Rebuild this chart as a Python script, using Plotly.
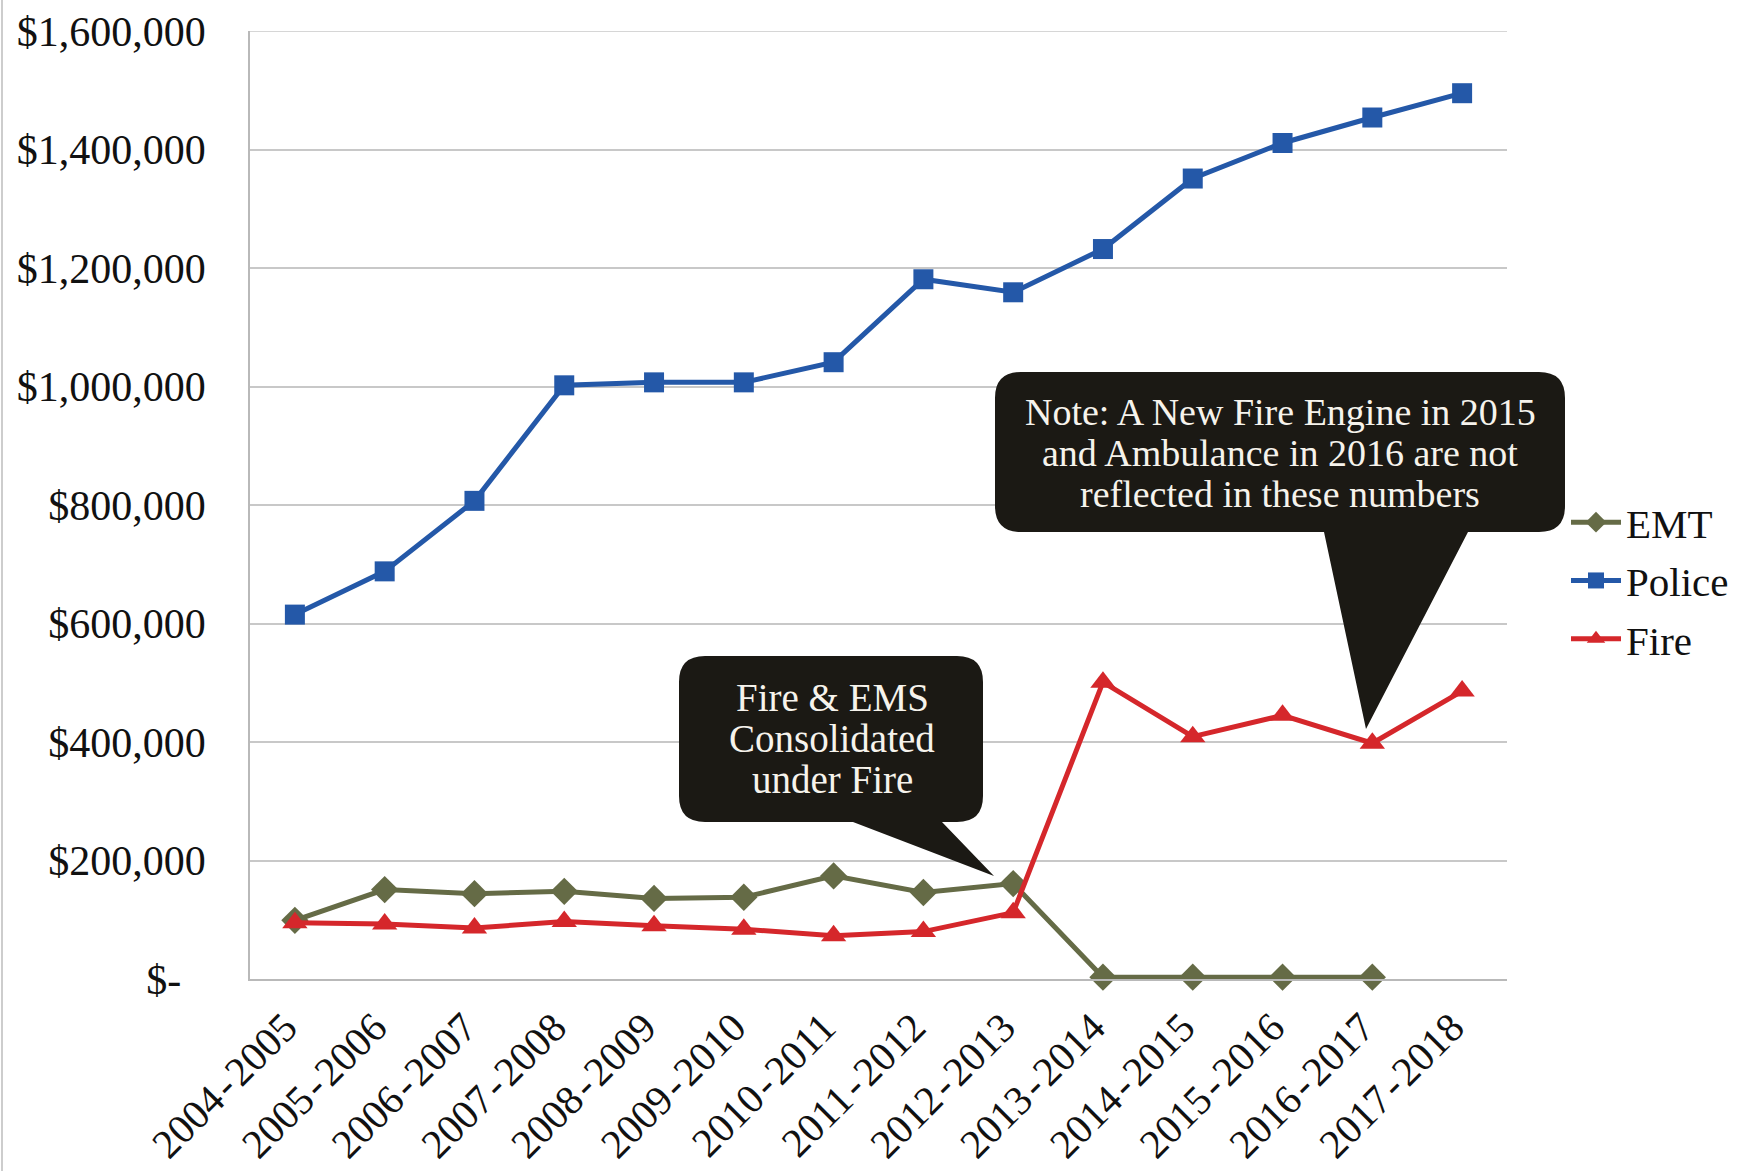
import plotly.graph_objects as go

# ---------------- data ----------------
years = ["2004-2005", "2005-2006", "2006-2007", "2007-2008", "2008-2009",
         "2009-2010", "2010-2011", "2011-2012", "2012-2013", "2013-2014",
         "2014-2015", "2015-2016", "2016-2017", "2017-2018"]

emt = [99000, 151000, 144000, 148000, 136000, 138000, 174000, 146000,
       161000, 3000, 3000, 3000, 3000, None]
police = [615000, 688000, 807000, 1002000, 1007000, 1007000, 1041000,
          1181000, 1159000, 1232000, 1351000, 1411000, 1454000, 1495000]
fire = [95000, 93000, 86000, 97000, 90000, 84000, 73000, 80000, 112000,
        501000, 409000, 445000, 398000, 486000]

y_tickvals = [0, 200000, 400000, 600000, 800000, 1000000, 1200000, 1400000, 1600000]
y_ticktext = ["$-\u00a0\u00a0\u200a", "$200,000", "$400,000", "$600,000", "$800,000",
              "$1,000,000", "$1,200,000", "$1,400,000", "$1,600,000"]
x_ticktext = [y.replace("-", "\u200a-\u200a") for y in years]

note1_lines = ["Fire & EMS", "Consolidated", "under Fire"]
note2_lines = ["Note: A New Fire Engine in 2015",
               "and Ambulance in 2016 are not",
               "reflected in these numbers"]

# ---------------- layout geometry ----------------
W, H = 1737, 1171
ML, MR, MT, MB = 250, 230, 31, 192
PW = W - ML - MR
PH = H - MT - MB
FONT = "Liberation Serif"

C_EMT = "#656b46"
C_POL = "#2458a8"
C_FIRE = "#d5272b"


def px2paper(px, py):
    return (px - ML) / PW, (H - MB - py) / PH


def callout_path(x0, y0, x1, y1, r, tail_r, tip, tail_l):
    pts = []

    def P(cmd, *xy):
        out = cmd
        for i in range(0, len(xy), 2):
            a, b = px2paper(xy[i], xy[i + 1])
            out += f" {a:.5f},{b:.5f}"
        pts.append(out)

    P("M", x0 + r, y0)
    P("L", x1 - r, y0)
    P("Q", x1, y0, x1, y0 + r)
    P("L", x1, y1 - r)
    P("Q", x1, y1, x1 - r, y1)
    P("L", tail_r, y1)
    P("L", tip[0], tip[1])
    P("L", tail_l, y1)
    P("L", x0 + r, y1)
    P("Q", x0, y1, x0, y1 - r)
    P("L", x0, y0 + r)
    P("Q", x0, y0, x0 + r, y0)
    return " ".join(pts) + " Z"


fig = go.Figure()

fig.add_trace(go.Scatter(
    x=years, y=emt, name="EMT", mode="lines+markers",
    line=dict(color=C_EMT, width=5),
    marker=dict(symbol="diamond", size=21, color=C_EMT),
    cliponaxis=False, legendgroup="a"))
fig.add_trace(go.Scatter(
    x=years, y=police, name="Police", mode="lines+markers",
    line=dict(color=C_POL, width=5),
    marker=dict(symbol="square", size=20, color=C_POL),
    cliponaxis=False, legendgroup="b"))
fig.add_trace(go.Scatter(
    x=years, y=fire, name="Fire", mode="lines+markers",
    line=dict(color=C_FIRE, width=5),
    marker=dict(symbol="triangle-up", size=22, color=C_FIRE),
    cliponaxis=False, legendgroup="c"))

shapes = [
    # top gridline at the range edge
    dict(type="line", xref="paper", yref="y", x0=0, x1=1,
         y0=y_tickvals[-1], y1=y_tickvals[-1], layer="below",
         line=dict(color="#c8c8c8", width=1.5)),
    dict(type="path", xref="paper", yref="paper", layer="above",
         path=callout_path(679, 656, 983, 822, 26, 942, (994, 876), 853),
         fillcolor="#1b1914", line=dict(width=0)),
    dict(type="path", xref="paper", yref="paper", layer="above",
         path=callout_path(995, 372, 1565, 532, 26, 1468, (1366, 729), 1324),
         fillcolor="#1b1914", line=dict(width=0)),
]
# faint page border line at the far left
bx, _ = px2paper(2, 0)
shapes.append(dict(type="line", xref="paper", yref="paper", x0=bx, x1=bx,
                   y0=px2paper(0, H)[1], y1=px2paper(0, 0)[1],
                   line=dict(color="#bdbdbd", width=1.5)))

annotations = []
for txt, py in zip(note1_lines, [697, 738, 779]):
    ax, ay = px2paper(832, py)
    annotations.append(dict(xref="paper", yref="paper", x=ax, y=ay, text=txt,
                            showarrow=False, xanchor="center", yanchor="middle",
                            font=dict(family=FONT, size=39, color="#f6f3ec")))
for txt, py in zip(note2_lines, [412, 453, 494]):
    ax, ay = px2paper(1280, py)
    annotations.append(dict(xref="paper", yref="paper", x=ax, y=ay, text=txt,
                            showarrow=False, xanchor="center", yanchor="middle",
                            font=dict(family=FONT, size=38, color="#f6f3ec")))

fig.update_layout(
    width=W, height=H,
    margin=dict(l=ML, r=MR, t=MT, b=MB, pad=0, autoexpand=False),
    paper_bgcolor="white", plot_bgcolor="white",
    font=dict(family=FONT, size=40, color="#111111"),
    showlegend=True,
    legend=dict(xref="container", yref="container",
                x=1566 / W, y=1 - 489 / H, xanchor="left", yanchor="top",
                font=dict(family=FONT, size=41, color="#111111"),
                tracegroupgap=2, itemwidth=50, bgcolor="rgba(0,0,0,0)"),
    xaxis=dict(type="category", range=[-0.5, len(years) - 0.5],
               tickvals=years, ticktext=x_ticktext, automargin=False,
               showgrid=False, showline=True, linecolor="#b9b9b9", linewidth=1.5,
               tickangle=-45, ticks="", ticklabelstandoff=6, ticklabelshift=-10,
               tickfont=dict(family=FONT, size=41, color="#111111")),
    yaxis=dict(range=[0, 1600000], tickvals=y_tickvals, ticktext=y_ticktext,
               automargin=False,
               showgrid=True, gridcolor="#c8c8c8", gridwidth=1.5,
               zeroline=False, showline=True, linecolor="#b9b9b9", linewidth=1.5,
               ticks="", ticklabelstandoff=34,
               tickfont=dict(family=FONT, size=42, color="#111111")),
    shapes=shapes, annotations=annotations,
)

fig.write_html("out.html")
